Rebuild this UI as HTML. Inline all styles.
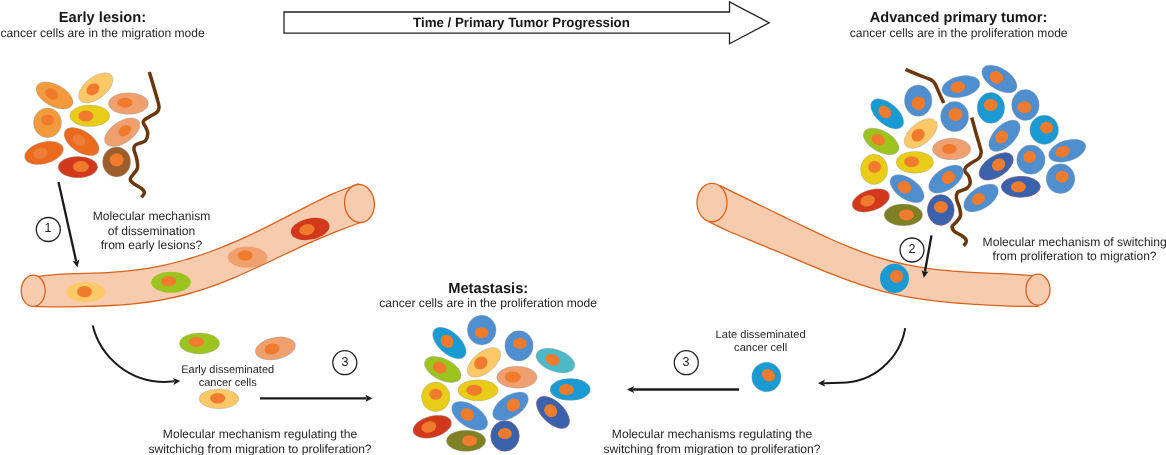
<!DOCTYPE html>
<html><head><meta charset="utf-8"><style>
html,body{margin:0;padding:0;background:#fff;}
svg{display:block;font-family:"Liberation Sans",sans-serif;}
.co{stroke:#8c9aa8;stroke-width:0.45;stroke-opacity:0.75}
.cd{stroke:#735a86;stroke-width:0.8;stroke-opacity:0.9}
text{will-change:transform;text-rendering:geometricPrecision}
.wrap{position:relative;width:1166px;height:455px;overflow:hidden}
.num{position:absolute;width:24px;text-align:center;font-family:"Liberation Sans",sans-serif;font-size:12.5px;line-height:12.5px;color:#222;will-change:transform}
</style></head><body><div class="wrap">
<svg width="1166" height="455" viewBox="0 0 1166 455">
<rect width="1166" height="455" fill="#fff"/>
<polygon points="284,12 729.5,12 729.5,1.9 769.2,22.7 729.5,43.7 729.5,33.2 284,33.2" fill="#fff" stroke="#222" stroke-width="1.3" stroke-linejoin="miter"/>
<path d="M36.0,276.6 C40.1,276.2 52.5,274.7 60.8,274.2 C69.0,273.7 77.3,273.7 85.5,273.4 C93.8,273.1 102.1,273.0 110.3,272.4 C118.6,271.9 126.8,271.2 135.1,270.1 C143.3,269.1 151.6,267.8 159.8,266.1 C168.1,264.4 176.4,262.4 184.6,260.0 C192.9,257.7 201.1,254.9 209.4,252.0 C217.6,249.0 225.9,245.7 234.2,242.1 C242.4,238.6 250.7,234.7 258.9,230.8 C267.2,226.8 275.4,222.5 283.7,218.3 C291.9,214.2 300.2,209.7 308.5,205.6 C316.7,201.5 325.0,197.2 333.2,193.6 C341.5,190.1 353.9,185.7 358.0,184.1 L362.0,222.0 C357.8,223.5 345.2,228.1 336.8,231.4 C328.5,234.8 320.1,238.3 311.7,241.9 C303.3,245.6 294.9,249.6 286.5,253.5 C278.2,257.4 269.8,261.5 261.4,265.4 C253.0,269.3 244.6,273.2 236.2,276.8 C227.8,280.3 219.5,283.7 211.1,286.6 C202.7,289.6 194.3,292.2 185.9,294.5 C177.5,296.7 169.2,298.6 160.8,300.1 C152.4,301.6 144.0,302.7 135.6,303.6 C127.2,304.5 118.8,305.0 110.5,305.5 C102.1,306.0 93.7,306.2 85.3,306.4 C76.9,306.6 68.5,306.8 60.2,306.8 C51.8,306.9 39.2,306.6 35.0,306.6 Z" fill="#F7CBAE" stroke="#D8621C" stroke-width="1.3"/>
<ellipse cx="33.2" cy="290.8" rx="12" ry="15.6" fill="#F7CBAE" stroke="#D8621C" stroke-width="1.3"/>
<ellipse transform="translate(359.5 203.5) rotate(-6)" rx="14.9" ry="19.1" fill="#F7CBAE" stroke="#D8621C" stroke-width="1.3"/>
<path d="M720.8,185.8 C723.9,187.4 733.2,192.2 739.5,195.2 C745.7,198.3 751.9,201.3 758.1,204.3 C764.3,207.3 770.6,210.3 776.8,213.4 C783.0,216.4 789.2,219.5 795.4,222.5 C801.7,225.5 807.9,228.5 814.1,231.4 C820.3,234.4 826.5,237.3 832.8,240.0 C839.0,242.8 845.2,245.4 851.4,247.9 C857.6,250.3 863.9,252.7 870.1,254.8 C876.3,256.9 882.5,258.8 888.7,260.5 C894.9,262.2 901.2,263.7 907.4,264.9 C913.6,266.2 919.8,267.3 926.0,268.2 C932.3,269.1 938.5,269.8 944.7,270.4 C950.9,271.1 957.1,271.5 963.4,271.9 C969.6,272.3 975.8,272.6 982.0,272.9 C988.2,273.2 994.5,273.4 1000.7,273.7 C1006.9,274.0 1013.1,274.3 1019.3,274.7 C1025.6,275.1 1034.9,275.8 1038.0,276.0 L1038.0,306.3 C1034.8,306.3 1025.1,306.4 1018.6,306.3 C1012.2,306.2 1005.7,305.9 999.3,305.6 C992.8,305.3 986.3,305.0 979.9,304.6 C973.4,304.2 967.0,303.8 960.5,303.3 C954.1,302.8 947.6,302.3 941.1,301.6 C934.7,300.9 928.2,300.2 921.8,299.2 C915.3,298.2 908.9,297.1 902.4,295.8 C895.9,294.5 889.5,293.0 883.0,291.3 C876.6,289.6 870.1,287.7 863.7,285.6 C857.2,283.6 850.8,281.3 844.3,278.9 C837.8,276.5 831.4,273.9 824.9,271.3 C818.5,268.7 812.0,266.0 805.6,263.3 C799.1,260.6 792.6,257.8 786.2,255.1 C779.7,252.4 773.3,249.7 766.8,247.1 C760.4,244.4 753.9,241.8 747.4,239.1 C741.0,236.5 734.5,233.9 728.1,231.0 C721.6,228.1 711.9,223.3 708.7,221.7 Z" fill="#F7CBAE" stroke="#D8621C" stroke-width="1.3"/>
<ellipse cx="712" cy="202.5" rx="15" ry="19.2" fill="#F7CBAE" stroke="#D8621C" stroke-width="1.3"/>
<ellipse cx="1038" cy="289.7" rx="12" ry="15.5" fill="#F7CBAE" stroke="#D8621C" stroke-width="1.3"/>
<path d="M149.3,72.1 C150.0,74.5 152.1,81.4 153.6,86.4 C155.1,91.4 157.2,98.5 158.1,102.1 C159.0,105.7 159.2,106.2 159.0,107.9 C158.8,109.6 158.6,110.7 157.1,112.1 C155.6,113.5 152.1,115.1 150.0,116.4 C147.9,117.7 145.4,118.9 144.3,120.0 C143.2,121.1 143.1,121.7 143.3,122.9 C143.5,124.1 144.9,125.3 145.7,127.1 C146.4,128.9 147.8,131.2 147.8,133.5 C147.8,135.8 146.8,139.0 145.5,140.6 C144.2,142.2 141.6,142.3 139.8,143.1 C138.0,143.9 135.8,144.5 134.8,145.6 C133.8,146.7 133.7,147.6 134.0,149.7 C134.3,151.8 135.9,154.9 136.5,157.9 C137.1,160.9 138.1,165.1 137.5,167.8 C136.9,170.6 134.4,172.5 133.2,174.4 C132.0,176.3 130.2,177.8 130.2,179.3 C130.2,180.8 131.3,181.9 133.2,183.4 C135.1,184.9 139.5,186.8 141.4,188.4 C143.3,190.0 144.4,191.3 144.4,192.8 C144.4,194.3 141.9,196.6 141.4,197.3" fill="none" stroke="#6B380E" stroke-width="3.5" stroke-linejoin="round"/>
<path d="M905.5,69.3 C907.3,70.1 912.5,72.4 916.5,74.1 C920.5,75.8 926.8,77.8 929.7,79.2 C932.6,80.6 932.9,81.1 934.1,82.5 C935.3,83.9 935.9,85.6 936.8,87.5 C937.7,89.4 938.4,91.4 939.6,94.0 C940.8,96.6 943.1,101.5 943.8,103.0" fill="none" stroke="#6B380E" stroke-width="3.5" stroke-linejoin="round"/>
<path d="M971.7,117.5 C972.4,119.9 974.3,127.0 975.6,131.7 C976.9,136.4 978.7,142.1 979.6,145.6 C980.5,149.1 981.4,150.4 981.2,152.5 C981.0,154.6 980.4,156.6 978.6,158.4 C976.9,160.2 972.8,161.9 970.7,163.4 C968.6,164.9 966.8,166.0 965.8,167.3 C964.8,168.6 964.3,169.8 964.8,171.3 C965.3,172.8 967.8,174.2 968.7,176.2 C969.6,178.2 970.5,181.1 970.2,183.1 C970.0,185.1 968.6,186.9 967.2,188.1 C965.8,189.3 963.5,189.6 961.9,190.4 C960.2,191.2 958.2,191.3 957.3,192.7 C956.4,194.1 956.1,196.2 956.5,198.8 C956.9,201.4 958.9,205.3 959.6,208.1 C960.3,210.9 961.0,213.5 960.5,215.8 C960.0,218.1 957.9,220.1 956.5,221.9 C955.1,223.7 952.6,224.9 952.2,226.5 C951.8,228.1 952.6,229.6 954.2,231.2 C955.8,232.8 959.9,234.4 961.9,235.8 C963.9,237.2 965.4,238.4 966.0,239.6 C966.6,240.8 966.2,242.2 965.8,243.2 C965.4,244.2 963.9,245.4 963.5,245.8" fill="none" stroke="#6B380E" stroke-width="3.5" stroke-linejoin="round"/>
<g transform="translate(54.5 95.5) rotate(28.2)"><ellipse rx="20.11" ry="10.87" fill="#F29A3C" class="co"/></g><g transform="translate(51.6 94.0) rotate(28.2)"><ellipse rx="7" ry="5" fill="#F07B2D"/></g>
<g transform="translate(95.8 87.9) rotate(-38.0)"><ellipse rx="20.04" ry="10.83" fill="#FDC868" class="co"/></g><g transform="translate(92.9 89.3) rotate(-38.0)"><ellipse rx="7" ry="5.5" fill="#F07B2D"/></g>
<g transform="translate(128.4 103.5) rotate(-0.0)"><ellipse rx="19.99" ry="10.80" fill="#F0A06E" class="co"/></g><g transform="translate(124.9 102.8) rotate(-0.0)"><ellipse rx="7.5" ry="5" fill="#F07B2D"/></g>
<g transform="translate(89.8 115.8) rotate(0.0)"><ellipse rx="19.99" ry="10.80" fill="#E8CC18" class="co"/></g><g transform="translate(85.9 116.0) rotate(0.0)"><ellipse rx="7.5" ry="5.5" fill="#F07B2D"/></g>
<g transform="translate(47.5 122.8) rotate(0.0)"><ellipse rx="14.00" ry="14.70" fill="#F29A3C" class="co"/></g><g transform="translate(47.5 120.0) rotate(0.0)"><ellipse rx="6.5" ry="5.5" fill="#F07B2D"/></g>
<g transform="translate(122.2 132.2) rotate(-34.0)"><ellipse rx="19.95" ry="10.78" fill="#F0A06E" class="co"/></g><g transform="translate(124.9 130.7) rotate(-34.0)"><ellipse rx="7" ry="5" fill="#F07B2D"/></g>
<g transform="translate(81.6 141.6) rotate(33.5)"><ellipse rx="19.65" ry="10.62" fill="#EC6A1E" class="co"/></g><g transform="translate(79.2 140.2) rotate(33.5)"><ellipse rx="7" ry="5" fill="#EF7E3A"/></g>
<g transform="translate(44.0 152.9) rotate(-15.3)"><ellipse rx="19.85" ry="10.73" fill="#EC6A1E" class="co"/></g><g transform="translate(40.5 153.1) rotate(-15.3)"><ellipse rx="7.5" ry="5.5" fill="#EF7E3A"/></g>
<g transform="translate(77.9 167.1) rotate(-0.0)"><ellipse rx="19.72" ry="10.66" fill="#D2381A" class="co"/></g><g transform="translate(80.9 166.6) rotate(-0.0)"><ellipse rx="8" ry="5.5" fill="#F07B2D"/></g>
<g transform="translate(116.6 161.9) rotate(0.0)"><ellipse rx="14.00" ry="15.00" fill="#9C5E2A" class="co"/></g><g transform="translate(116.6 159.8) rotate(0.0)"><ellipse rx="7" ry="6.5" fill="#F07B2D"/></g>
<g transform="translate(85.8 291.9) rotate(0.0)"><ellipse rx="19.80" ry="9.90" fill="#FDC868"/></g><g transform="translate(84.5 291.7) rotate(0.0)"><ellipse rx="7.4" ry="5.6" fill="#F07B2D"/></g>
<g transform="translate(171.0 282.3) rotate(0.0)"><ellipse rx="19.80" ry="10.50" fill="#9DC31F"/></g><g transform="translate(168.5 281.3) rotate(0.0)"><ellipse rx="7.5" ry="5" fill="#F07B2D"/></g>
<g transform="translate(247.6 257.2) rotate(0.0)"><ellipse rx="19.80" ry="10.60" fill="#F0A06E"/></g><g transform="translate(245.2 255.6) rotate(0.0)"><ellipse rx="7.5" ry="5" fill="#F07B2D"/></g>
<g transform="translate(310.2 229.0) rotate(-12.1)"><ellipse rx="19.61" ry="10.60" fill="#D2381A"/></g><g transform="translate(307.0 229.6) rotate(-12.1)"><ellipse rx="7.7" ry="5.5" fill="#F07B2D"/></g>
<g transform="translate(199.5 343.4) rotate(0.0)"><ellipse rx="20.00" ry="10.50" fill="#9DC31F" class="co"/></g><g transform="translate(196.4 342.0) rotate(0.0)"><ellipse rx="7.6" ry="5" fill="#F07B2D"/></g>
<g transform="translate(275.4 348.4) rotate(-11.7)"><ellipse rx="20.30" ry="10.97" fill="#F0A06E" class="co"/></g><g transform="translate(272.0 349.0) rotate(-11.7)"><ellipse rx="7.5" ry="5.5" fill="#F07B2D"/></g>
<g transform="translate(219.0 398.8) rotate(0.0)"><ellipse rx="19.80" ry="9.90" fill="#FDC868" class="co"/></g><g transform="translate(217.7 398.2) rotate(0.0)"><ellipse rx="7.6" ry="5.3" fill="#F07B2D"/></g>
<g transform="translate(766.4 377.0) rotate(0.0)"><ellipse rx="14.60" ry="14.80" fill="#1A9AD2" class="co"/></g><g transform="translate(768.5 375.2) rotate(40.0)"><ellipse rx="7" ry="5.8" fill="#F07B2D"/></g>
<g transform="translate(894.5 278.4) rotate(0.0)"><ellipse rx="14.50" ry="14.60" fill="#1A9AD2"/></g><g transform="translate(896.5 276.4) rotate(0.0)"><ellipse rx="6.5" ry="6.4" fill="#F07B2D"/></g>
<g transform="translate(960.9 86.6) rotate(-12.3)"><ellipse rx="19.31" ry="10.44" fill="#4F8ECF" class="co"/></g><g transform="translate(957.8 87.1) rotate(-12.3)"><ellipse rx="7.5" ry="5.5" fill="#F07B2D"/></g>
<g transform="translate(999.4 79.0) rotate(31.9)"><ellipse rx="19.65" ry="10.62" fill="#4F8ECF" class="co"/></g><g transform="translate(996.4 77.4) rotate(31.9)"><ellipse rx="7" ry="6" fill="#F07B2D"/></g>
<g transform="translate(887.2 113.9) rotate(40.3)"><ellipse rx="19.55" ry="10.57" fill="#1A9AD2" class="co"/></g><g transform="translate(884.9 112.0) rotate(40.3)"><ellipse rx="7" ry="5.5" fill="#F07B2D"/></g>
<g transform="translate(918.2 100.6) rotate(0.0)"><ellipse rx="13.75" ry="15.70" fill="#4F8ECF" class="co"/></g><g transform="translate(918.5 103.2) rotate(0.0)"><ellipse rx="6.8" ry="6.8" fill="#F07B2D"/></g>
<g transform="translate(954.6 116.5) rotate(0.0)"><ellipse rx="14.00" ry="15.10" fill="#4F8ECF" class="co"/></g><g transform="translate(955.5 114.4) rotate(0.0)"><ellipse rx="7" ry="6.5" fill="#F07B2D"/></g>
<g transform="translate(990.9 107.8) rotate(0.0)"><ellipse rx="13.75" ry="15.40" fill="#1A9AD2" class="co"/></g><g transform="translate(990.7 105.1) rotate(0.0)"><ellipse rx="7" ry="6" fill="#F07B2D"/></g>
<g transform="translate(1025.4 105.0) rotate(0.0)"><ellipse rx="13.75" ry="15.40" fill="#4F8ECF" class="co"/></g><g transform="translate(1024.4 107.3) rotate(0.0)"><ellipse rx="7" ry="6" fill="#F07B2D"/></g>
<g transform="translate(881.1 141.4) rotate(29.4)"><ellipse rx="19.49" ry="10.53" fill="#9DC31F" class="co"/></g><g transform="translate(878.3 139.7) rotate(29.4)"><ellipse rx="7" ry="5.5" fill="#F07B2D"/></g>
<g transform="translate(920.7 133.5) rotate(-39.3)"><ellipse rx="19.50" ry="10.54" fill="#FDC868" class="co"/></g><g transform="translate(918.1 135.2) rotate(-39.3)"><ellipse rx="7" ry="6" fill="#F07B2D"/></g>
<g transform="translate(1004.5 135.7) rotate(-45.0)"><ellipse rx="19.47" ry="10.52" fill="#4F8ECF" class="co"/></g><g transform="translate(1001.7 137.1) rotate(-45.0)"><ellipse rx="7" ry="6" fill="#F07B2D"/></g>
<g transform="translate(1044.2 129.8) rotate(0.0)"><ellipse rx="14.30" ry="14.60" fill="#1A9AD2" class="co"/></g><g transform="translate(1046.6 127.7) rotate(0.0)"><ellipse rx="6.5" ry="6" fill="#F07B2D"/></g>
<g transform="translate(951.6 149.1) rotate(0.0)"><ellipse rx="19.20" ry="10.75" fill="#F0A06E" class="co"/></g><g transform="translate(949.3 149.0) rotate(0.0)"><ellipse rx="7.5" ry="5" fill="#F07B2D"/></g>
<g transform="translate(874.1 169.4) rotate(0.0)"><ellipse rx="13.50" ry="15.10" fill="#E8CC18" class="co"/></g><g transform="translate(874.6 167.0) rotate(0.0)"><ellipse rx="6.5" ry="6" fill="#F07B2D"/></g>
<g transform="translate(914.8 162.3) rotate(0.0)"><ellipse rx="18.70" ry="10.90" fill="#E8CC18" class="co"/></g><g transform="translate(911.6 161.7) rotate(0.0)"><ellipse rx="7.5" ry="5.5" fill="#F07B2D"/></g>
<g transform="translate(996.2 166.4) rotate(-33.0)"><ellipse rx="19.12" ry="10.34" fill="#3A62AC" class="cd"/></g><g transform="translate(998.6 164.7) rotate(-33.0)"><ellipse rx="7" ry="6" fill="#F07B2D"/></g>
<g transform="translate(1030.9 159.7) rotate(0.0)"><ellipse rx="14.20" ry="14.60" fill="#4F8ECF" class="co"/></g><g transform="translate(1029.5 156.9) rotate(0.0)"><ellipse rx="6.5" ry="6" fill="#F07B2D"/></g>
<g transform="translate(1067.2 150.7) rotate(-18.1)"><ellipse rx="19.16" ry="10.36" fill="#4F8ECF" class="co"/></g><g transform="translate(1062.6 151.7) rotate(-18.1)"><ellipse rx="7.5" ry="5.5" fill="#F07B2D"/></g>
<g transform="translate(946.1 179.1) rotate(-33.8)"><ellipse rx="19.58" ry="10.58" fill="#4F8ECF" class="co"/></g><g transform="translate(948.4 177.6) rotate(-33.8)"><ellipse rx="7" ry="6" fill="#F07B2D"/></g>
<g transform="translate(907.1 188.7) rotate(34.8)"><ellipse rx="19.37" ry="10.47" fill="#4F8ECF" class="co"/></g><g transform="translate(904.5 187.2) rotate(34.8)"><ellipse rx="7" ry="6" fill="#F07B2D"/></g>
<g transform="translate(1060.5 178.7) rotate(0.0)"><ellipse rx="14.30" ry="14.85" fill="#4F8ECF" class="co"/></g><g transform="translate(1062.2 176.8) rotate(0.0)"><ellipse rx="6.5" ry="6" fill="#F07B2D"/></g>
<g transform="translate(1020.8 186.8) rotate(0.0)"><ellipse rx="19.50" ry="10.45" fill="#3A62AC" class="cd"/></g><g transform="translate(1018.4 186.8) rotate(0.0)"><ellipse rx="7.5" ry="5.5" fill="#F07B2D"/></g>
<g transform="translate(870.8 200.4) rotate(-18.5)"><ellipse rx="19.41" ry="10.49" fill="#D2381A" class="co"/></g><g transform="translate(867.7 200.8) rotate(-18.5)"><ellipse rx="7.5" ry="5.5" fill="#F07B2D"/></g>
<g transform="translate(903.4 214.9) rotate(0.0)"><ellipse rx="19.20" ry="10.85" fill="#7F8024" class="co"/></g><g transform="translate(906.4 214.9) rotate(0.0)"><ellipse rx="7.5" ry="5.5" fill="#F07B2D"/></g>
<g transform="translate(940.8 210.0) rotate(0.0)"><ellipse rx="13.30" ry="15.30" fill="#3A62AC" class="cd"/></g><g transform="translate(940.9 207.0) rotate(0.0)"><ellipse rx="7" ry="6" fill="#F07B2D"/></g>
<g transform="translate(981.0 198.0) rotate(-33.4)"><ellipse rx="19.52" ry="10.55" fill="#4F8ECF" class="co"/></g><g transform="translate(978.3 199.0) rotate(-33.4)"><ellipse rx="7" ry="5.5" fill="#F07B2D"/></g>
<g transform="translate(449.4 343.0) rotate(41.8)"><ellipse rx="20.10" ry="10.87" fill="#1A9AD2" class="co"/></g><g transform="translate(447.1 341.3) rotate(41.8)"><ellipse rx="7" ry="6" fill="#F07B2D"/></g>
<g transform="translate(481.7 330.1) rotate(0.0)"><ellipse rx="14.35" ry="14.80" fill="#4F8ECF" class="co"/></g><g transform="translate(481.7 332.7) rotate(0.0)"><ellipse rx="7" ry="5.5" fill="#F07B2D"/></g>
<g transform="translate(442.8 369.5) rotate(26.5)"><ellipse rx="19.75" ry="10.67" fill="#9DC31F" class="co"/></g><g transform="translate(439.7 367.7) rotate(26.5)"><ellipse rx="7" ry="5.5" fill="#F07B2D"/></g>
<g transform="translate(484.0 362.4) rotate(-38.8)"><ellipse rx="19.60" ry="10.59" fill="#FDC868" class="co"/></g><g transform="translate(480.8 363.0) rotate(-38.8)"><ellipse rx="7" ry="6" fill="#F07B2D"/></g>
<g transform="translate(519.0 345.8) rotate(0.0)"><ellipse rx="14.10" ry="15.15" fill="#4F8ECF" class="co"/></g><g transform="translate(519.9 343.4) rotate(0.0)"><ellipse rx="7" ry="5.5" fill="#F07B2D"/></g>
<g transform="translate(555.4 360.6) rotate(19.6)"><ellipse rx="20.17" ry="10.90" fill="#4DB8C6" class="co"/></g><g transform="translate(552.4 359.7) rotate(19.6)"><ellipse rx="7.5" ry="5.5" fill="#F07B2D"/></g>
<g transform="translate(516.9 377.2) rotate(0.0)"><ellipse rx="20.20" ry="11.00" fill="#F0A06E" class="co"/></g><g transform="translate(512.8 377.1) rotate(0.0)"><ellipse rx="8" ry="5.5" fill="#F07B2D"/></g>
<g transform="translate(570.2 389.4) rotate(0.0)"><ellipse rx="20.10" ry="10.95" fill="#1A9AD2" class="co"/></g><g transform="translate(566.4 389.6) rotate(0.0)"><ellipse rx="7.5" ry="5.5" fill="#F07B2D"/></g>
<g transform="translate(435.7 396.8) rotate(0.0)"><ellipse rx="14.20" ry="14.70" fill="#E8CC18" class="co"/></g><g transform="translate(435.8 394.3) rotate(0.0)"><ellipse rx="6.5" ry="5.5" fill="#F07B2D"/></g>
<g transform="translate(478.0 390.3) rotate(0.0)"><ellipse rx="20.10" ry="10.55" fill="#E8CC18" class="co"/></g><g transform="translate(474.2 390.2) rotate(0.0)"><ellipse rx="8" ry="5.5" fill="#F07B2D"/></g>
<g transform="translate(469.7 415.8) rotate(33.3)"><ellipse rx="20.24" ry="10.94" fill="#4F8ECF" class="co"/></g><g transform="translate(467.2 414.5) rotate(33.3)"><ellipse rx="7" ry="6" fill="#F07B2D"/></g>
<g transform="translate(432.2 426.7) rotate(-15.0)"><ellipse rx="19.73" ry="10.66" fill="#D2381A" class="co"/></g><g transform="translate(428.9 427.0) rotate(-15.0)"><ellipse rx="7.5" ry="5.5" fill="#F07B2D"/></g>
<g transform="translate(466.1 440.8) rotate(0.0)"><ellipse rx="19.60" ry="10.55" fill="#7F8024" class="co"/></g><g transform="translate(469.5 440.7) rotate(0.0)"><ellipse rx="7.5" ry="5.5" fill="#F07B2D"/></g>
<g transform="translate(510.5 406.3) rotate(-33.2)"><ellipse rx="20.00" ry="10.81" fill="#4F8ECF" class="co"/></g><g transform="translate(513.3 405.1) rotate(-33.2)"><ellipse rx="7" ry="6" fill="#F07B2D"/></g>
<g transform="translate(553.0 412.4) rotate(43.5)"><ellipse rx="20.06" ry="10.84" fill="#3A62AC" class="cd"/></g><g transform="translate(550.7 410.7) rotate(43.5)"><ellipse rx="7" ry="6" fill="#F07B2D"/></g>
<g transform="translate(505.0 436.0) rotate(0.0)"><ellipse rx="14.20" ry="15.20" fill="#3A62AC" class="cd"/></g><g transform="translate(504.9 433.6) rotate(0.0)"><ellipse rx="7" ry="5.5" fill="#F07B2D"/></g>
<line x1="58.5" y1="181.9" x2="76.2" y2="261.3" stroke="#1a1a1a" stroke-width="2.3"/><polygon points="77.5,267.2 72.6,261.1 76.3,261.6 79.4,259.6" fill="#1a1a1a"/>
<line x1="931.5" y1="235.4" x2="924.9" y2="271.8" stroke="#1a1a1a" stroke-width="2.3"/><polygon points="923.8,277.7 921.6,270.2 924.8,272.1 928.5,271.4" fill="#1a1a1a"/>
<line x1="260" y1="398.3" x2="366.5" y2="398.3" stroke="#1a1a1a" stroke-width="2.3"/><polygon points="372.5,398.3 365.5,401.8 366.8,398.3 365.5,394.8" fill="#1a1a1a"/>
<line x1="739" y1="389.5" x2="633.0" y2="389.5" stroke="#1a1a1a" stroke-width="2.3"/><polygon points="627.0,389.5 634.0,386.0 632.7,389.5 634.0,393.0" fill="#1a1a1a"/>
<path d="M92.7,325.6 A74.25,74.25 0 0 0 164.7,381.95 L174.3,381.3" fill="none" stroke="#1a1a1a" stroke-width="2"/><polygon points="180.3,381.0 173.5,384.9 174.6,381.3 173.1,377.9" fill="#1a1a1a"/>
<path d="M905.2,328.2 A65.6,65.6 0 0 1 840.9,382.7 L824,383.3" fill="none" stroke="#1a1a1a" stroke-width="2"/><polygon points="818.0,383.3 824.9,379.6 823.7,383.1 825.1,386.6" fill="#1a1a1a"/>
<circle cx="48.3" cy="229.5" r="12" fill="#fff" stroke="#222" stroke-width="1.3"/>
<circle cx="912" cy="250" r="12" fill="#fff" stroke="#222" stroke-width="1.3"/>
<circle cx="344.8" cy="362.7" r="12" fill="#fff" stroke="#222" stroke-width="1.3"/>
<circle cx="686.3" cy="362.7" r="12" fill="#fff" stroke="#222" stroke-width="1.3"/>
<text x="102.5" y="21.8" text-anchor="middle" font-size="14.7" font-weight="bold" fill="#161616">Early lesion:</text>
<text x="102.6" y="36.6" text-anchor="middle" font-size="12.1" font-weight="normal" fill="#262626">cancer cells are in the migration mode</text>
<text x="521.5" y="26.6" text-anchor="middle" font-size="13.3" font-weight="bold" fill="#161616">Time / Primary Tumor Progression</text>
<text x="958.5" y="21.9" text-anchor="middle" font-size="14.6" font-weight="bold" fill="#161616">Advanced primary tumor:</text>
<text x="958.7" y="36.6" text-anchor="middle" font-size="12.1" font-weight="normal" fill="#262626">cancer cells are in the proliferation mode</text>
<text x="488.2" y="292.8" text-anchor="middle" font-size="14.7" font-weight="bold" fill="#161616">Metastasis:</text>
<text x="488.1" y="307.2" text-anchor="middle" font-size="12.1" font-weight="normal" fill="#262626">cancer cells are in the proliferation mode</text>
<text x="151.5" y="220" text-anchor="middle" font-size="12.1" font-weight="normal" fill="#262626">Molecular mechanism</text>
<text x="151.5" y="234.9" text-anchor="middle" font-size="12.1" font-weight="normal" fill="#262626">of dissemination</text>
<text x="151.5" y="248.8" text-anchor="middle" font-size="12.1" font-weight="normal" fill="#262626">from early lesions?</text>
<text x="227.7" y="373.2" text-anchor="middle" font-size="11" font-weight="normal" fill="#262626">Early disseminated</text>
<text x="227.7" y="385.7" text-anchor="middle" font-size="11" font-weight="normal" fill="#262626">cancer cells</text>
<text x="760.6" y="337.7" text-anchor="middle" font-size="11.1" font-weight="normal" fill="#262626">Late disseminated</text>
<text x="760.6" y="350.5" text-anchor="middle" font-size="11.1" font-weight="normal" fill="#262626">cancer cell</text>
<text x="260" y="438.2" text-anchor="middle" font-size="12.1" font-weight="normal" fill="#262626">Molecular mechanism regulating the</text>
<text x="260" y="452.6" text-anchor="middle" font-size="12.1" font-weight="normal" fill="#262626">switchichg from migration to proliferation?</text>
<text x="712" y="438.2" text-anchor="middle" font-size="12.1" font-weight="normal" fill="#262626">Molecular mechanisms regulating the</text>
<text x="712" y="452.6" text-anchor="middle" font-size="12.1" font-weight="normal" fill="#262626">switching from migration to proliferation?</text>
<text x="982.6" y="245.5" text-anchor="start" font-size="12.1" font-weight="normal" fill="#262626">Molecular mechanism of switching</text>
<text x="1074.6" y="259.7" text-anchor="middle" font-size="12.1" font-weight="normal" fill="#262626">from proliferation to migration?</text>
</svg>
<div class="num" style="left:36.3px;top:222.4px">1</div>
<div class="num" style="left:900.0px;top:242.9px">2</div>
<div class="num" style="left:332.8px;top:355.6px">3</div>
<div class="num" style="left:674.3px;top:355.6px">3</div>
</div></body></html>
